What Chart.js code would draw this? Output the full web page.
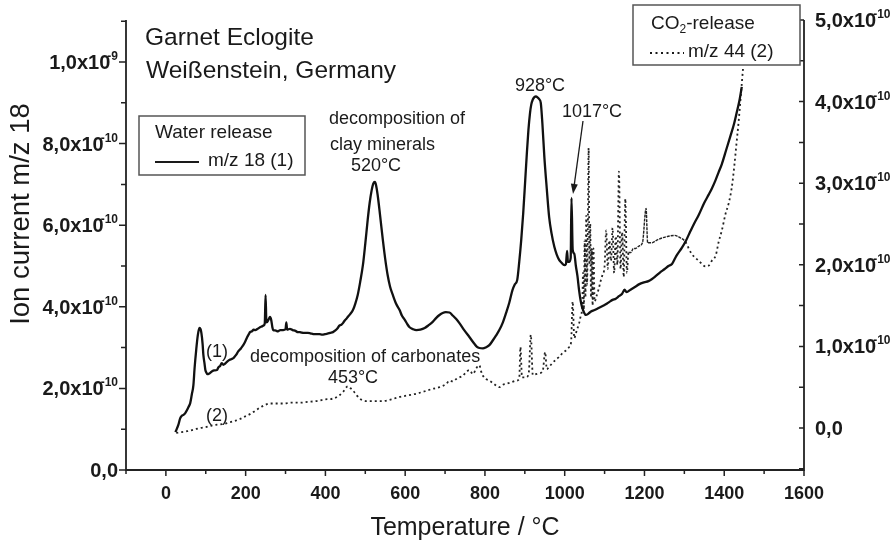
<!DOCTYPE html>
<html>
<head>
<meta charset="utf-8">
<title>Garnet Eclogite – evolved gas analysis</title>
<script src="https://cdn.jsdelivr.net/npm/chart.js@4.4.1/dist/chart.umd.min.js"></script>
<style>
  html, body { margin: 0; padding: 0; background: #ffffff; }
  #wrap { width: 896px; height: 547px; }
</style>
</head>
<body>
<div id="wrap"><canvas id="c" width="896" height="547"></canvas></div>
<script>
// Water release, m/z 18 (1): temperature in °C, ion current in units of 1e-10 A (left axis)
const waterT = [24, 31, 36, 40, 44, 49, 53, 57, 61, 65, 69, 72, 76, 80, 84, 87, 89, 92, 94, 97,
  99, 102, 104, 108, 111, 116, 121, 128, 132, 136, 140, 144, 148, 153, 160, 165, 170, 176, 181, 188,
  194, 199, 204, 208, 211, 216, 220, 224, 230, 236, 241, 246, 248, 250, 252, 254, 258, 261, 264, 267,
  269, 274, 281, 287, 294, 300, 302, 304, 311, 318, 325, 331, 336, 340, 345, 350, 356, 362, 366, 372,
  378, 385, 392, 399, 405, 412, 419, 425, 431, 435, 440, 444, 448, 452, 456, 462, 469, 475, 481, 487,
  494, 500, 506, 511, 516, 520, 524, 527, 531, 537, 544, 550, 556, 562, 569, 577, 586, 592, 599, 605,
  611, 620, 628, 638, 649, 659, 669, 678, 686, 694, 702, 711, 720, 728, 736, 748, 761, 773, 780, 786,
  795, 803, 811, 820, 828, 836, 845, 853, 861, 869, 875, 881, 886, 891, 896, 901, 905, 909, 913, 916,
  920, 924, 928, 931, 936, 940, 944, 949, 955, 961, 967, 974, 980, 986, 992, 999, 1003, 1006, 1008, 1011,
  1015, 1017, 1020, 1024, 1028, 1032, 1036, 1040, 1044, 1049, 1053, 1058, 1065, 1075, 1085, 1095, 1103, 1112, 1120, 1128,
  1136, 1144, 1150, 1155, 1165, 1178, 1186, 1199, 1210, 1219, 1228, 1240, 1250, 1260, 1269, 1280, 1294, 1303, 1315, 1325,
  1336, 1350, 1361, 1369, 1378, 1386, 1394, 1405, 1416, 1425, 1431, 1438, 1444];
const waterI = [0.93, 1.10, 1.27, 1.33, 1.35, 1.40, 1.47, 1.55, 1.64, 1.85, 2.08, 2.50, 2.94, 3.30, 3.48, 3.45, 3.36, 3.10, 2.82, 2.60,
  2.45, 2.38, 2.35, 2.36, 2.38, 2.42, 2.44, 2.45, 2.52, 2.55, 2.62, 2.58, 2.60, 2.65, 2.70, 2.72, 2.75, 2.82, 2.90, 2.98,
  3.06, 3.15, 3.26, 3.33, 3.38, 3.40, 3.44, 3.43, 3.46, 3.50, 3.52, 3.55, 3.60, 4.29, 3.62, 3.63, 3.70, 3.75, 3.68, 3.50,
  3.43, 3.42, 3.40, 3.43, 3.43, 3.45, 3.62, 3.44, 3.46, 3.43, 3.41, 3.38, 3.38, 3.37, 3.36, 3.36, 3.36, 3.35, 3.34, 3.33,
  3.33, 3.33, 3.32, 3.33, 3.34, 3.36, 3.38, 3.42, 3.48, 3.54, 3.56, 3.60, 3.66, 3.70, 3.75, 3.82, 3.92, 4.08, 4.29, 4.60,
  5.02, 5.55, 6.13, 6.55, 6.86, 7.02, 7.06, 6.98, 6.74, 6.25, 5.64, 5.17, 4.78, 4.50, 4.29, 4.08, 3.92, 3.78, 3.68, 3.58,
  3.50, 3.45, 3.43, 3.44, 3.48, 3.55, 3.63, 3.73, 3.80, 3.85, 3.87, 3.86, 3.78, 3.70, 3.60, 3.43, 3.26, 3.10, 3.02, 2.99,
  2.98, 3.01, 3.06, 3.18, 3.30, 3.43, 3.62, 3.85, 4.10, 4.41, 4.55, 4.66, 5.10, 5.64, 6.30, 7.10, 7.75, 8.33, 8.75, 8.95,
  9.08, 9.14, 9.16, 9.14, 9.09, 9.00, 8.50, 7.67, 6.90, 6.20, 5.80, 5.47, 5.28, 5.15, 5.08, 5.02, 5.05, 5.37, 5.10, 5.10,
  5.20, 6.67, 5.40, 5.30, 5.00, 4.75, 4.41, 4.15, 3.98, 3.85, 3.80, 3.82, 3.88, 3.92, 3.97, 4.02, 4.06, 4.12, 4.17, 4.20,
  4.26, 4.32, 4.42, 4.36, 4.42, 4.50, 4.55, 4.60, 4.63, 4.68, 4.75, 4.85, 4.92, 5.00, 5.05, 5.25, 5.45, 5.60, 5.85, 6.05,
  6.25, 6.55, 6.75, 6.90, 7.10, 7.30, 7.50, 7.85, 8.20, 8.50, 8.75, 9.05, 9.39];

// CO2 release, m/z 44 (2): temperature in °C, ion current in units of 1e-10 A (right axis)
const co2T = [26, 40, 53, 70, 86, 100, 115, 128, 145, 161, 175, 186, 198, 211, 224, 236, 248, 261, 278, 294,
  315, 336, 357, 378, 398, 419, 432, 444, 451, 456, 462, 469, 477, 486, 494, 503, 520, 544, 565, 586,
  607, 628, 649, 669, 686, 703, 711, 720, 728, 736, 745, 752, 761, 770, 778, 786, 790, 795, 803, 811,
  820, 828, 836, 845, 853, 866, 878, 886, 889, 893, 903, 910, 915, 920, 928, 936, 945, 951, 955, 961,
  970, 978, 986, 995, 1003, 1011, 1016, 1020, 1024, 1028, 1032, 1036, 1040, 1044, 1046, 1048, 1050, 1052, 1054, 1056,
  1058, 1060, 1062, 1064, 1066, 1068, 1070, 1072, 1075, 1080, 1085, 1090, 1095, 1100, 1104, 1108, 1112, 1116, 1120, 1124,
  1128, 1132, 1136, 1140, 1144, 1148, 1152, 1156, 1160, 1166, 1172, 1178, 1186, 1195, 1204, 1208, 1219, 1230, 1245, 1260,
  1275, 1290, 1303, 1311, 1319, 1336, 1353, 1361, 1369, 1379, 1386, 1394, 1403, 1411, 1419, 1425, 1431, 1436, 1442, 1447];
const co2I = [-0.06, -0.05, -0.04, -0.02, 0.00, 0.01, 0.03, 0.04, 0.05, 0.07, 0.09, 0.11, 0.14, 0.17, 0.21, 0.25, 0.28, 0.30, 0.30, 0.30,
  0.31, 0.31, 0.32, 0.33, 0.35, 0.36, 0.39, 0.44, 0.49, 0.51, 0.49, 0.46, 0.41, 0.36, 0.34, 0.33, 0.33, 0.33, 0.35, 0.38,
  0.40, 0.42, 0.45, 0.48, 0.50, 0.54, 0.58, 0.57, 0.60, 0.62, 0.64, 0.68, 0.71, 0.66, 0.73, 0.77, 0.70, 0.64, 0.60, 0.58,
  0.55, 0.52, 0.50, 0.53, 0.54, 0.56, 0.58, 0.60, 0.99, 0.62, 0.62, 0.68, 1.14, 0.65, 0.66, 0.67, 0.70, 0.93, 0.72, 0.75,
  0.80, 0.84, 0.87, 0.92, 0.95, 0.99, 1.05, 1.55, 1.10, 1.16, 1.22, 1.28, 1.37, 1.50, 1.90, 1.45, 2.30, 1.60, 2.60, 1.75,
  2.45, 3.43, 2.00, 2.50, 1.60, 2.20, 1.50, 2.20, 1.55, 1.62, 1.70, 1.80, 1.88, 1.98, 2.42, 1.95, 2.30, 2.05, 2.45, 1.90,
  2.35, 2.00, 3.14, 1.95, 2.40, 1.85, 2.81, 1.90, 2.15, 2.15, 2.20, 2.20, 2.23, 2.27, 2.69, 2.27, 2.27, 2.30, 2.33, 2.35,
  2.36, 2.33, 2.28, 2.20, 2.13, 2.05, 1.98, 1.99, 2.05, 2.12, 2.28, 2.42, 2.62, 2.75, 2.95, 3.20, 3.50, 3.75, 4.10, 4.40];

// Axis ticks and their labels
const xTicks = [0, 200, 400, 600, 800, 1000, 1200, 1400, 1600];
const leftTicks = [0, 2, 4, 6, 8, 10];
const leftTickBase = ['0,0', '2,0x10', '4,0x10', '6,0x10', '8,0x10', '1,0x10'];
const leftTickExp = ['', '-10', '-10', '-10', '-10', '-9'];
const rightTicks = [0, 1, 2, 3, 4, 5];
const rightTickBase = ['0,0', '1,0x10', '2,0x10', '3,0x10', '4,0x10', '5,0x10'];
const rightTickExp = ['', '-10', '-10', '-10', '-10', '-10'];

const FONT = '"Liberation Sans", Arial, Helvetica, sans-serif';
const INK = '#1a1a1a';
const AXIS = '#222222';

function toPoints(xs, ys) {
  return xs.map((t, i) => ({ x: t, y: ys[i] }));
}

// Tick label such as "4,0x10" with a raised exponent
function drawSci(ctx, base, exp, x, y, align) {
  ctx.font = `bold 20px ${FONT}`;
  const wb = ctx.measureText(base).width;
  ctx.font = `bold 12px ${FONT}`;
  const we = exp ? ctx.measureText(exp).width : 0;
  const overlap = exp ? 3 : 0;
  const total = wb + we - overlap;
  const x0 = align === 'right' ? x - total : x;
  ctx.textAlign = 'left';
  ctx.textBaseline = 'alphabetic';
  ctx.font = `bold 20px ${FONT}`;
  ctx.fillText(base, x0, y + 7);
  if (exp) {
    ctx.font = `bold 12px ${FONT}`;
    ctx.fillText(exp, x0 + wb - overlap, y - 2);
  }
}

function text(ctx, s, x, y, size, align) {
  ctx.font = `${size}px ${FONT}`;
  ctx.textAlign = align || 'left';
  ctx.textBaseline = 'middle';
  ctx.fillText(s, x, y);
}

const decor = {
  id: 'decor',
  afterDraw(chart) {
    const { ctx, chartArea: a } = chart;
    const { x, y, y2 } = chart.scales;
    ctx.save();

    // axis lines: left, bottom, right
    ctx.strokeStyle = AXIS;
    ctx.lineWidth = 1.8;
    ctx.beginPath();
    ctx.moveTo(a.left, a.top);
    ctx.lineTo(a.left, a.bottom);
    ctx.lineTo(a.right, a.bottom);
    ctx.lineTo(a.right, a.top);
    ctx.stroke();

    // tick marks (major and minor)
    ctx.lineWidth = 1.5;
    ctx.beginPath();
    for (let v = -100; v <= 1600; v += 100) {
      const p = x.getPixelForValue(v);
      ctx.moveTo(p, a.bottom);
      ctx.lineTo(p, a.bottom + (v % 200 === 0 ? 6 : 4));
    }
    for (let v = 0; v <= 11; v += 1) {
      const p = y.getPixelForValue(v);
      ctx.moveTo(a.left, p);
      ctx.lineTo(a.left - (v % 2 === 0 ? 7 : 5), p);
    }
    for (let v = -0.5; v <= 5.001; v += 0.5) {
      const p = y2.getPixelForValue(v);
      ctx.moveTo(a.right, p);
      ctx.lineTo(a.right - 5, p);
    }
    ctx.stroke();

    // y tick labels
    ctx.fillStyle = INK;
    leftTicks.forEach((v, i) => drawSci(ctx, leftTickBase[i], leftTickExp[i], a.left - 8, y.getPixelForValue(v), 'right'));
    rightTicks.forEach((v, i) => drawSci(ctx, rightTickBase[i], rightTickExp[i], a.right + 11, y2.getPixelForValue(v), 'left'));

    // left axis title
    ctx.save();
    ctx.translate(21, 214);
    ctx.rotate(-Math.PI / 2);
    text(ctx, 'Ion current m/z 18', 0, 0, 27.5, 'center');
    ctx.restore();

    // sample name
    text(ctx, 'Garnet Eclogite', 145, 38, 24.5);
    text(ctx, 'Weißenstein, Germany', 146, 71, 24.5);

    // peak annotations
    text(ctx, 'decomposition of', 329, 119, 18);
    text(ctx, 'clay minerals', 330, 145, 18);
    text(ctx, '520°C', 376, 166, 18, 'center');
    text(ctx, '928°C', 540, 86, 18, 'center');
    text(ctx, '1017°C', 592, 112, 18, 'center');
    text(ctx, 'decomposition of carbonates', 250, 357, 18);
    text(ctx, '453°C', 353, 378, 18, 'center');
    text(ctx, '(1)', 217, 352, 18, 'center');
    text(ctx, '(2)', 217, 416, 18, 'center');

    // arrow pointing at the 1017 °C spike
    const ax0 = 583, ay0 = 121, ax1 = 573, ay1 = 194;
    const ang = Math.atan2(ay1 - ay0, ax1 - ax0);
    const hl = 10, hw = 3.5;
    const bx = ax1 - hl * Math.cos(ang), by = ay1 - hl * Math.sin(ang);
    ctx.strokeStyle = INK;
    ctx.lineWidth = 1.3;
    ctx.beginPath();
    ctx.moveTo(ax0, ay0);
    ctx.lineTo(bx, by);
    ctx.stroke();
    ctx.beginPath();
    ctx.moveTo(ax1, ay1);
    ctx.lineTo(bx + hw * Math.sin(ang), by - hw * Math.cos(ang));
    ctx.lineTo(bx - hw * Math.sin(ang), by + hw * Math.cos(ang));
    ctx.closePath();
    ctx.fill();

    // legend: water release
    ctx.fillStyle = '#ffffff';
    ctx.strokeStyle = '#555555';
    ctx.lineWidth = 1.5;
    ctx.fillRect(139, 116, 166, 59);
    ctx.strokeRect(139, 116, 166, 59);
    ctx.fillStyle = INK;
    text(ctx, 'Water release', 155, 133, 19);
    ctx.strokeStyle = INK;
    ctx.lineWidth = 2;
    ctx.beginPath();
    ctx.moveTo(155, 162);
    ctx.lineTo(199, 162);
    ctx.stroke();
    text(ctx, 'm/z 18 (1)', 208, 161, 19);

    // legend: CO2 release
    ctx.fillStyle = '#ffffff';
    ctx.strokeStyle = '#555555';
    ctx.lineWidth = 1.5;
    ctx.fillRect(633, 5, 167, 60);
    ctx.strokeRect(633, 5, 167, 60);
    ctx.fillStyle = INK;
    ctx.font = `19px ${FONT}`;
    ctx.textAlign = 'left';
    ctx.textBaseline = 'middle';
    ctx.fillText('CO', 651, 24);
    const wCO = ctx.measureText('CO').width;
    ctx.font = `12px ${FONT}`;
    ctx.fillText('2', 651 + wCO, 30);
    const w2 = ctx.measureText('2').width;
    ctx.font = `19px ${FONT}`;
    ctx.fillText('-release', 651 + wCO + w2, 24);
    ctx.strokeStyle = INK;
    ctx.lineWidth = 2;
    ctx.setLineDash([2, 3.5]);
    ctx.beginPath();
    ctx.moveTo(650, 53);
    ctx.lineTo(684, 53);
    ctx.stroke();
    ctx.setLineDash([]);
    text(ctx, 'm/z 44 (2)', 688, 52, 19);

    ctx.restore();
  }
};

// the densely sampled CO2 stretch between about 1160 and 1305 °C reads as a near-continuous trace
const denseFrom = 1160, denseTo = 1305;

new Chart(document.getElementById('c').getContext('2d'), {
  type: 'line',
  data: {
    datasets: [
      {
        label: 'm/z 18 (1)',
        data: toPoints(waterT, waterI),
        yAxisID: 'y',
        borderColor: '#111111',
        borderWidth: 2.3,
        pointRadius: 0,
        cubicInterpolationMode: 'monotone',
        fill: false
      },
      {
        label: 'm/z 44 (2)',
        data: toPoints(co2T, co2I),
        yAxisID: 'y2',
        borderColor: '#222222',
        borderWidth: 1.8,
        borderDash: [2, 3],
        pointRadius: 0,
        cubicInterpolationMode: 'monotone',
        fill: false,
        segment: {
          borderDash: c => (c.p0.parsed.x >= denseFrom && c.p1.parsed.x <= denseTo) ? [3, 1] : [2, 3],
          borderWidth: c => (c.p0.parsed.x >= denseFrom && c.p1.parsed.x <= denseTo) ? 1.4 : 1.8
        }
      }
    ]
  },
  options: {
    responsive: false,
    animation: false,
    devicePixelRatio: 1,
    layout: { padding: { top: 20, left: 0, right: 0, bottom: 0 } },
    plugins: { legend: { display: false }, tooltip: { enabled: false } },
    scales: {
      x: {
        type: 'linear',
        min: -100,
        max: 1600,
        grid: { display: false, drawTicks: false },
        border: { display: false },
        afterBuildTicks: s => { s.ticks = xTicks.map(v => ({ value: v })); },
        afterFit: s => { s.height = 77; },
        ticks: {
          autoSkip: false,
          maxRotation: 0,
          padding: 13,
          color: INK,
          font: { family: FONT, size: 18, weight: 'bold' },
          callback: v => String(v)
        },
        title: {
          display: true,
          text: 'Temperature / °C',
          color: INK,
          font: { family: FONT, size: 25 },
          padding: { top: 0, bottom: 4 }
        }
      },
      y: {
        position: 'left',
        min: 0,
        max: 11.03,
        grid: { display: false, drawTicks: false },
        border: { display: false },
        ticks: { display: false },
        afterFit: s => { s.width = 126; }
      },
      y2: {
        position: 'right',
        min: -0.515,
        max: 5.0,
        grid: { display: false, drawTicks: false },
        border: { display: false },
        ticks: { display: false },
        afterFit: s => { s.width = 92; }
      }
    }
  },
  plugins: [decor]
});
</script>
</body>
</html>
